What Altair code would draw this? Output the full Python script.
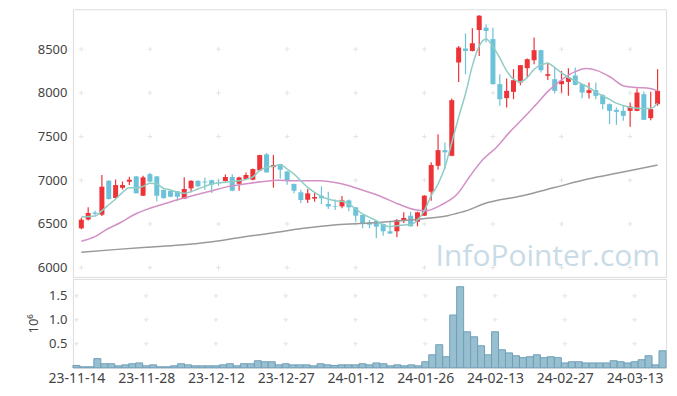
import altair as alt
import pandas as pd

# ---- data ----
tick_labels = ["23-11-14", "23-11-28", "23-12-12", "23-12-27", "24-01-12",
               "24-01-26", "24-02-13", "24-02-27", "24-03-13"]

opens = [6450, 6550, 6630, 6606, 6995, 6797, 6914, 6983, 7044, 6823,
         7070, 7044, 6890, 6880, 6873, 6789, 6907, 6994, 6985, 7000,
         6975, 6991, 7037, 6960, 7014, 7006, 7113, 7296, 7150, 7185,
         7100, 6957, 6862, 6777, 6790, 6823, 6728, 6705, 6701, 6770,
         6690, 6602, 6519, 6534, 6500, 6416, 6416, 6545, 6594, 6526,
         6594, 6869, 7166, 7345, 7280, 8348, 8508, 8480, 8720, 8747,
         8616, 8100, 7940, 8012, 8119, 8283, 8374, 8489, 8195, 8157,
         8100, 8126, 8199, 8100, 8000, 8031, 7974, 7871, 7806, 7794,
         7794, 7794, 7985, 7711, 7871]
highs = [6570, 6690, 6650, 7060, 7000, 7010, 6985, 7040, 7050, 7052,
         7085, 7050, 6895, 6885, 6878, 7033, 7000, 7000, 7030, 7005,
         7010, 7067, 7068, 7040, 7090, 7135, 7292, 7311, 7290, 7190,
         7105, 6962, 6892, 6900, 6862, 6930, 6869, 6780, 6820, 6780,
         6695, 6607, 6545, 6545, 6505, 6537, 6557, 6633, 6640, 6640,
         6830, 7205, 7528, 7433, 7936, 8538, 8682, 8739, 8890, 8785,
         8747, 8214, 8165, 8271, 8320, 8395, 8633, 8495, 8348, 8290,
         8252, 8283, 8290, 8105, 8119, 8119, 7985, 7880, 7833, 7852,
         7890, 8050, 8016, 8012, 8271]
lows = [6440, 6540, 6600, 6590, 6780, 6790, 6895, 6945, 6850, 6820,
        6980, 6760, 6790, 6805, 6766, 6785, 6862, 6925, 6890, 6855,
        6935, 6985, 6875, 6880, 7005, 7000, 7110, 7088, 6915, 7020,
        6950, 6850, 6740, 6740, 6755, 6728, 6671, 6660, 6680, 6645,
        6526, 6450, 6450, 6336, 6366, 6385, 6347, 6511, 6470, 6473,
        6590, 6766, 7120, 7128, 7275, 8126, 8214, 8475, 8423, 8576,
        8095, 7852, 7833, 7928, 8088, 8176, 8328, 8233, 8149, 7993,
        8004, 7966, 8088, 7940, 7936, 7928, 7814, 7642, 7634, 7680,
        7612, 7790, 7690, 7688, 7852]
closes = [6549, 6625, 6615, 6926, 6785, 6945, 6945, 7006, 6850, 7033,
          6985, 6823, 6795, 6812, 6811, 6900, 6994, 6930, 6975, 6950,
          6965, 7037, 6880, 7033, 7060, 7128, 7288, 7090, 7175, 7120,
          6994, 6880, 6774, 6850, 6808, 6793, 6701, 6698, 6770, 6690,
          6594, 6500, 6492, 6469, 6416, 6390, 6545, 6568, 6473, 6633,
          6823, 7174, 7345, 7320, 7917, 8519, 8480, 8568, 8884, 8709,
          8100, 7928, 8023, 8145, 8317, 8386, 8489, 8260, 8214, 8023,
          8138, 8176, 8092, 8004, 8031, 7966, 7871, 7794, 7783, 7737,
          7844, 8004, 7692, 7814, 8023]
volumes_m = [0.048, 0.02, 0.02, 0.19, 0.083, 0.083, 0.04, 0.06, 0.083, 0.10,
             0.04, 0.06, 0.02, 0.02, 0.04, 0.083, 0.06, 0.04, 0.04, 0.04,
             0.04, 0.06, 0.083, 0.04, 0.083, 0.083, 0.146, 0.125, 0.125, 0.06,
             0.083, 0.06, 0.06, 0.06, 0.04, 0.083, 0.06, 0.048, 0.06, 0.06,
             0.06, 0.083, 0.06, 0.10, 0.083, 0.04, 0.06, 0.04, 0.06, 0.04,
             0.125, 0.27, 0.48, 0.23, 1.10, 1.69, 0.75, 0.646, 0.458, 0.27,
             0.75, 0.375, 0.31, 0.25, 0.21, 0.23, 0.27, 0.21, 0.23, 0.21,
             0.10, 0.125, 0.125, 0.10, 0.10, 0.10, 0.10, 0.146, 0.125, 0.10,
             0.125, 0.167, 0.25, 0.06, 0.354]

# short moving average (teal), read at bar positions
ma5_x = [0, 2, 3, 4, 5, 6, 7, 8, 9, 10, 11, 12, 13, 14, 15, 16, 17, 18, 19, 20,
         21, 22, 23, 24, 25, 26, 27, 28, 29, 30, 31, 32, 33, 34, 35, 36, 37, 38,
         39, 40, 41, 42, 43, 44, 45, 46, 47, 48, 49, 50, 51, 52, 53, 54, 55, 56,
         57, 58, 59, 60, 61, 62, 63, 64, 65, 66, 67, 68, 69, 70, 71, 72, 73, 74,
         75, 76, 77, 78, 79, 80, 81, 82, 83, 84]
ma5_y = [6580, 6590, 6652, 6720, 6785, 6862, 6915, 6911, 6930, 6966, 6957, 6907,
         6890, 6862, 6850, 6870, 6900, 6930, 6957, 6970, 6976, 6985, 6994, 7010,
         7040, 7110, 7150, 7160, 7177, 7128, 7071, 6994, 6918, 6862, 6816, 6785,
         6766, 6759, 6728, 6671, 6614, 6576, 6537, 6488, 6469, 6480, 6488, 6491,
         6545, 6652, 6823, 6957, 7148, 7433, 7720, 7990, 8309, 8538, 8618, 8530,
         8400, 8252, 8157, 8126, 8176, 8271, 8320, 8340, 8290, 8230, 8176, 8138,
         8100, 8062, 8010, 7966, 7925, 7883, 7855, 7833, 7825, 7822, 7822, 7883]

# medium moving average (pink)
ma20_x = [0, 2, 3.8, 5.8, 7.6, 10, 12, 14.4, 16.6, 19.1, 21.5, 23.8, 26.2, 28.8,
          30.5, 34.8, 37.6, 40.5, 43.4, 46.2, 48.6, 50.2, 52.4, 54.8, 56.7, 58.6,
          60.5, 62.4, 64.3, 66.2, 68.1, 70.0, 71.9, 73.6, 75.3, 77.2, 79.1, 81.0,
          82.9, 84]
ma20_y = [6302, 6354, 6442, 6519, 6602, 6679, 6728, 6785, 6831, 6880, 6930, 6957,
          6983, 7000, 6994, 6994, 6965, 6900, 6823, 6728, 6663, 6652, 6716, 6842,
          7052, 7242, 7376, 7548, 7700, 7860, 8023, 8149, 8240, 8279, 8252, 8176,
          8080, 8062, 8050, 8023]

# long moving average (gray)
mal_x = [0, 4.8, 9.5, 14.4, 19.1, 23.8, 27.6, 32.4, 37.2, 42, 46.7, 50.5, 53.4,
         54.8, 56.2, 58.6, 64.3, 69.1, 73.8, 78.6, 84]
mal_y = [6176, 6206, 6233, 6259, 6297, 6354, 6393, 6450, 6491, 6511, 6537, 6565,
         6594, 6622, 6652, 6728, 6823, 6919, 7014, 7090, 7174]

price_ticks = [6000, 6500, 7000, 7500, 8000, 8500]
vol_ticks = [0.5, 1.0, 1.5]
x_ticks = [0, 10, 20, 30, 40, 50, 60, 70, 80]
watermark = "InfoPointer.com"

# ---- styling ----
RED = "#ee3338"
BLUE = "#6cc2d8"
FONT = "Noto Sans"
LABEL = "#444444"
W = 594

n = len(opens)
df = pd.DataFrame({
    "i": list(range(n)), "open": opens, "high": highs, "low": lows,
    "close": closes, "vol": volumes_m,
    "dir": ["up" if c >= o else "down" for o, c in zip(opens, closes)],
})

xscale = alt.Scale(domain=[-0.5, n - 0.5], nice=False, zero=False)
label_expr = "[" + ",".join(f"'{t}'" for t in tick_labels) + "][round(datum.value/10)]"
color = alt.Color("dir:N", scale=alt.Scale(domain=["up", "down"], range=[RED, BLUE]), legend=None)

pscale = alt.Scale(domain=[5894, 8957], nice=False, zero=False)
yax = alt.Axis(values=price_ticks, format="d", grid=False, ticks=False, domain=False,
               labelPadding=6, labelFontSize=13, labelColor=LABEL, labelFont=FONT, title=None)

cross_shape = "M-1,0H1M0,-1V1"
CROSS = "#e4e4e4"
pc = pd.DataFrame([(x, y) for x in x_ticks for y in price_ticks], columns=["x", "y"])
price_cross = alt.Chart(pc).mark_point(shape=cross_shape, size=22, filled=False,
                                       stroke=CROSS, strokeWidth=1, opacity=1).encode(
    x=alt.X("x:Q", scale=xscale, axis=None),
    y=alt.Y("y:Q", scale=pscale, axis=yax),
)

wm = alt.Chart(pd.DataFrame({"t": [watermark]})).mark_text(
    align="right", baseline="alphabetic", fontSize=30, font="Open Sans", color="#c8dbe6"
).encode(text="t:N", x=alt.value(588), y=alt.value(257))

base = alt.Chart(df)
wicks = base.mark_rule(strokeWidth=1.2).encode(
    x=alt.X("i:Q", scale=xscale, axis=None),
    y=alt.Y("low:Q", scale=pscale, axis=yax),
    y2="high:Q", color=color)
bodies = base.mark_bar(size=5).encode(
    x=alt.X("i:Q", scale=xscale, axis=None),
    y=alt.Y("open:Q", scale=pscale, axis=yax),
    y2="close:Q", color=color)

def ma_line(xs, ys, col, w=1.5):
    d = pd.DataFrame({"x": xs, "v": ys})
    return alt.Chart(d).mark_line(color=col, strokeWidth=w, interpolate="monotone").encode(
        x=alt.X("x:Q", scale=xscale, axis=None),
        y=alt.Y("v:Q", scale=pscale, axis=yax))

price = alt.layer(
    price_cross, wm, wicks, bodies,
    ma_line(mal_x, mal_y, "#9a9a9a"),
    ma_line(ma20_x, ma20_y, "#d291c6"),
    ma_line(ma5_x, ma5_y, "#8fcdc4"),
).properties(width=W, height=268)

vscale = alt.Scale(domain=[0, 1.854], nice=False, zero=True)
vax = alt.Axis(values=vol_ticks, format=".1f", grid=False, ticks=False, domain=False,
               labelPadding=6, labelFontSize=13, labelColor=LABEL, labelFont=FONT,
               title="10⁶", titleFont=FONT, titleFontSize=13, titleFontWeight="normal",
               titleColor=LABEL, titlePadding=8)
xax = alt.Axis(values=x_ticks, labelExpr=label_expr, grid=False, ticks=False, domain=False,
               labelPadding=4, labelFontSize=14, labelColor=LABEL, labelFont=FONT, title=None)

vc = pd.DataFrame([(x, y) for x in x_ticks for y in vol_ticks], columns=["x", "y"])
vol_cross = alt.Chart(vc).mark_point(shape=cross_shape, size=22, filled=False,
                                     stroke=CROSS, strokeWidth=1, opacity=1).encode(
    x=alt.X("x:Q", scale=xscale, axis=xax),
    y=alt.Y("y:Q", scale=vscale, axis=vax))
vol_bars = base.transform_calculate(x0="datum.i - 0.5", x1="datum.i + 0.5").mark_bar(
    fill="#97bfd0", stroke="#6f9fb8", strokeWidth=1).encode(
    x=alt.X("x0:Q", scale=xscale, axis=xax),
    x2="x1:Q",
    y=alt.Y("vol:Q", scale=vscale, axis=vax),
    y2=alt.datum(0))

volume = alt.layer(vol_cross, vol_bars).properties(width=W, height=89)

chart = alt.vconcat(price, volume, spacing=0).properties(
    padding={"left": 19, "top": 0, "right": 2, "bottom": 2}
).configure_view(stroke="#e2e2e2").configure(background="white")

chart.save("out.html", embed_options={"renderer": "svg", "actions": False})
